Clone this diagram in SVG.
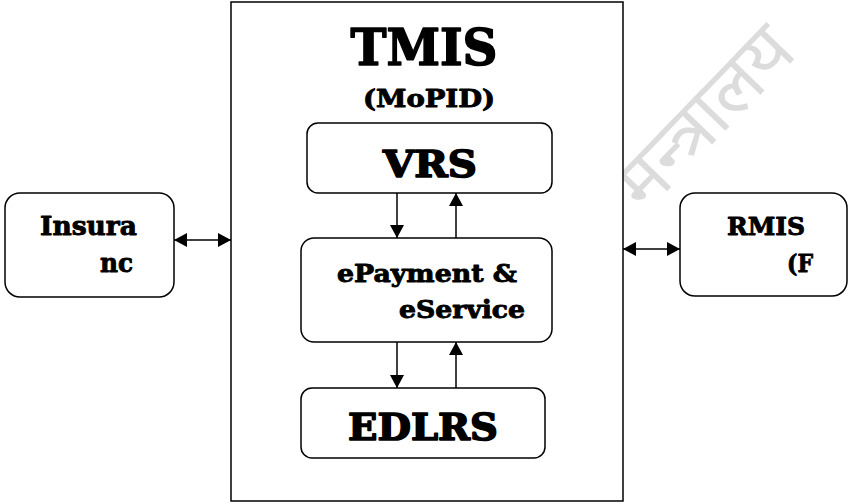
<svg xmlns="http://www.w3.org/2000/svg" width="849" height="504" viewBox="0 0 849 504">
<style>
.box{fill:#fff;stroke:#000;stroke-width:1.5}
.t{font-family:"DejaVu Serif","Liberation Serif",serif;font-weight:bold;fill:#000;stroke:#000;stroke-linejoin:round}
.big{stroke-width:1.6}
.sm{stroke-width:0.9}
.ln{stroke:#000;stroke-width:1.5;fill:none}
.wm{font-family:"Noto Sans","DejaVu Sans",sans-serif;fill:#dcdcdc}
</style>
<defs>
<marker id="ah" viewBox="0 0 13 14" refX="13" refY="7" markerWidth="13" markerHeight="14" markerUnits="userSpaceOnUse" orient="auto-start-reverse">
<path d="M0,0 L13,7 L0,14 Z" fill="#000"/>
</marker>
</defs>
<rect x="0" y="0" width="849" height="504" fill="#fff"/>
<text class="wm" x="0" y="0" font-size="74" transform="translate(645,214) rotate(-46)">मन्त्रालय</text>
<g id="tmis">
<rect class="box" x="231" y="2" width="392" height="499"/>
<text class="t big" x="424" y="65" font-size="51" text-anchor="middle" textLength="147" lengthAdjust="spacingAndGlyphs">TMIS</text>
<text class="t sm" x="429" y="107" font-size="24" text-anchor="middle" textLength="132" lengthAdjust="spacingAndGlyphs">(MoPID)</text>
</g>
<g id="vrs">
<rect class="box" x="307" y="123" width="245" height="70" rx="11"/>
<text class="t big" x="430" y="177" font-size="37" text-anchor="middle" textLength="94" lengthAdjust="spacingAndGlyphs">VRS</text>
</g>
<g id="epayment">
<rect class="box" x="301" y="238" width="251" height="104" rx="13"/>
<text class="t sm" x="337" y="282" font-size="24" textLength="180" lengthAdjust="spacingAndGlyphs">ePayment &amp;</text>
<text class="t sm" x="399" y="318" font-size="24" textLength="126" lengthAdjust="spacingAndGlyphs">eService</text>
</g>
<g id="edlrs">
<rect class="box" x="301" y="388" width="244" height="70" rx="11"/>
<text class="t big" x="423" y="440" font-size="37" text-anchor="middle" textLength="150" lengthAdjust="spacingAndGlyphs">EDLRS</text>
</g>
<g id="insurance">
<rect class="box" x="5" y="193" width="169" height="104" rx="15"/>
<text class="t sm" x="40" y="235" font-size="26" textLength="97" lengthAdjust="spacingAndGlyphs">Insura</text>
<text class="t sm" x="100" y="272" font-size="26" textLength="33" lengthAdjust="spacingAndGlyphs">nc</text>
</g>
<g id="rmis">
<rect class="box" x="680" y="193" width="167" height="103" rx="15"/>
<text class="t sm" x="727" y="235" font-size="24" textLength="78" lengthAdjust="spacingAndGlyphs">RMIS</text>
<text class="t sm" x="787" y="272" font-size="24" textLength="26" lengthAdjust="spacingAndGlyphs">(F</text>
</g>
<g id="connectors">
<line class="ln" x1="397" y1="193" x2="397" y2="238" marker-end="url(#ah)"/>
<line class="ln" x1="456" y1="238" x2="456" y2="193" marker-end="url(#ah)"/>
<line class="ln" x1="397" y1="342" x2="397" y2="388" marker-end="url(#ah)"/>
<line class="ln" x1="456" y1="388" x2="456" y2="342" marker-end="url(#ah)"/>
<line class="ln" x1="174" y1="240" x2="231" y2="240" marker-start="url(#ah)" marker-end="url(#ah)"/>
<line class="ln" x1="623" y1="249" x2="680" y2="249" marker-start="url(#ah)" marker-end="url(#ah)"/>
</g>
</svg>
